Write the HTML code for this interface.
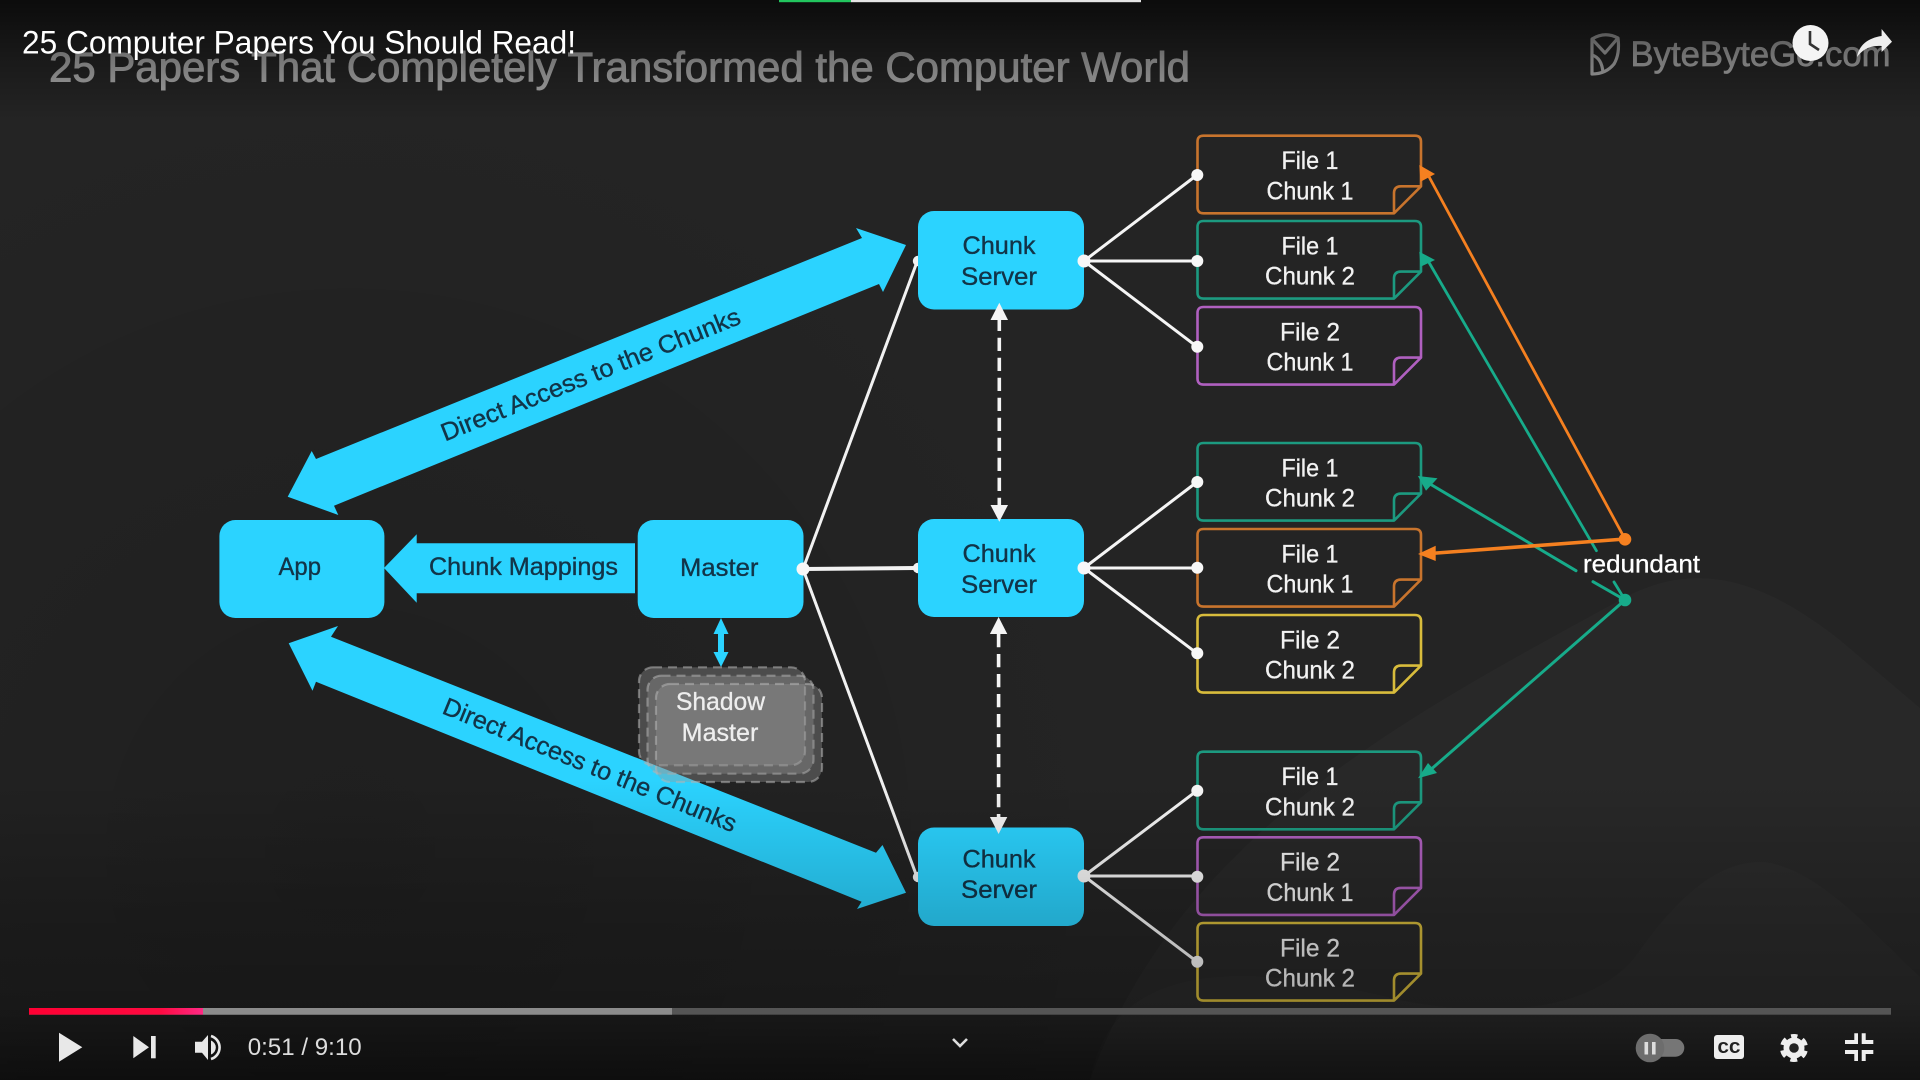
<!DOCTYPE html>
<html lang="en"><head><meta charset="utf-8"><title>25 Computer Papers You Should Read!</title>
<style>html,body{margin:0;padding:0;background:#232323;width:1920px;height:1080px;overflow:hidden}svg{display:block}text{font-family:"Liberation Sans",sans-serif}</style></head>
<body>
<svg xmlns="http://www.w3.org/2000/svg" width="1920" height="1080" viewBox="0 0 1920 1080">
<defs>
<linearGradient id="topg" x1="0" y1="0" x2="0" y2="1"><stop offset="0" stop-color="#000" stop-opacity=".68"/><stop offset=".5" stop-color="#000" stop-opacity=".3"/><stop offset="1" stop-color="#000" stop-opacity="0"/></linearGradient>
<linearGradient id="botg" gradientUnits="userSpaceOnUse" x1="0" y1="780" x2="0" y2="1080"><stop offset="0" stop-color="#000" stop-opacity="0"/><stop offset=".45" stop-color="#000" stop-opacity=".19"/><stop offset=".75" stop-color="#000" stop-opacity=".27"/><stop offset="1" stop-color="#000" stop-opacity=".58"/></linearGradient>
<radialGradient id="leftd" gradientUnits="userSpaceOnUse" cx="350" cy="850" r="800"><stop offset="0" stop-color="#000" stop-opacity=".14"/><stop offset="1" stop-color="#000" stop-opacity="0"/></radialGradient>
<linearGradient id="red" x1="0" y1="0" x2="1" y2="0"><stop offset="0" stop-color="#ff0033"/><stop offset=".75" stop-color="#ff0a40"/><stop offset="1" stop-color="#ff2a85"/></linearGradient>
<path id="f" fill="none" stroke="currentColor" stroke-width="2.6" stroke-linejoin="round" d="M6 0H217.5Q223.5 0 223.5 6V50.6L196.5 77.6H6Q0 77.6 0 71.6V6Q0 0 6 0ZM196.5 77.6V57.6Q196.5 50.6 203.5 50.6H223.5"/>
</defs>
<rect width="1920" height="1080" fill="#242424"/>
<rect width="1920" height="1080" fill="url(#leftd)"/>
<path d="M1090 1080C1180 830 1420 710 1620 600C1700 555 1770 585 1840 640L1920 708V1080Z" fill="#fff" opacity=".02"/>
<path d="M1090 1080C1110 980 1200 950 1400 1000C1500 1020 1600 1010 1640 950C1690 880 1730 860 1765 862C1820 870 1870 930 1920 977V1080Z" fill="#fff" opacity=".015"/>

<text x="49" y="81.7" font-size="42" fill="#a9a9a9" stroke="#a9a9a9" stroke-width=".9" textLength="1141" lengthAdjust="spacingAndGlyphs">25 Papers That Completely Transformed the Computer World</text>
<g fill="none" stroke="#aaa" stroke-width="3.2" stroke-linejoin="round"><path d="M1592 39Q1605 31 1618 38Q1620 54 1614 64Q1606 74 1592 74Z"/><path d="M1592 39L1605 53L1618 38M1592 55Q1602 58 1603 73"/></g>
<text x="1630.5" y="66" font-size="35" fill="#a9a9a9" stroke="#a9a9a9" stroke-width=".7" textLength="260" lengthAdjust="spacingAndGlyphs">ByteByteGo.com</text>

<!-- big arrows -->
<polygon points="287.7,496.7 311.7,451 316,459 862,238 856,228 906,245 883,292 879,284 334,505.7 338.3,515" fill="#2bd3ff"/>
<polygon points="288.7,643.3 338,626 331,636.7 876,852.7 882.5,845 906,892.7 857,909 861.6,901.7 316,681.7 312.5,690.7" fill="#2bd3ff"/>
<polygon points="384,568 416.7,534.3 416.7,543.3 635,543.3 635,593.3 416.7,593.3 416.7,602.7" fill="#2bd3ff"/>
<polygon points="721,618 728.5,634 724,634 724,652 728.5,652 721,667 713.5,652 718,652 718,634 713.5,634" fill="#2bd3ff"/>

<!-- master-to-server lines -->
<g stroke="#f2f2f2" stroke-width="3" fill="none" stroke-linecap="round"><line x1="803" y1="569" x2="917" y2="262"/><line x1="803" y1="569" x2="917" y2="568" stroke-width="4"/><line x1="803" y1="569" x2="917" y2="877"/></g>
<g fill="#f2f2f2"><circle cx="918" cy="261" r="5.2"/><circle cx="918" cy="568" r="5.2"/><circle cx="918" cy="877" r="5.2"/></g>

<!-- blue boxes -->
<g fill="#2bd3ff"><rect x="219.4" y="520" width="165" height="98" rx="16"/><rect x="637.7" y="520" width="165.8" height="98" rx="16"/><rect x="918" y="211" width="166" height="98.5" rx="16"/><rect x="918" y="519" width="166" height="98" rx="16"/><rect x="918" y="827.5" width="166" height="98.5" rx="16"/></g>

<!-- shadow master -->
<g fill="#999" fill-opacity=".36" stroke="#b5b5b5" stroke-opacity=".55" stroke-width="2.2" stroke-dasharray="9 6">
<rect x="639" y="667.3" width="166" height="98" rx="14"/><rect x="647.5" y="675.7" width="166" height="98" rx="14"/><rect x="656" y="684" width="166" height="98" rx="14"/></g>

<!-- dark text -->
<g fill="#123448" font-size="25" stroke="#123448" stroke-width=".35">
<text x="278.5" y="575" textLength="42.5" lengthAdjust="spacingAndGlyphs">App</text>
<text x="429" y="575" textLength="189" lengthAdjust="spacingAndGlyphs">Chunk Mappings</text>
<text x="680" y="576" textLength="78.4" lengthAdjust="spacingAndGlyphs">Master</text>
<text x="962.5" y="254" textLength="73" lengthAdjust="spacingAndGlyphs">Chunk</text><text x="961" y="285" textLength="76" lengthAdjust="spacingAndGlyphs">Server</text>
<text x="962.5" y="562" textLength="73" lengthAdjust="spacingAndGlyphs">Chunk</text><text x="961" y="593" textLength="76" lengthAdjust="spacingAndGlyphs">Server</text>
<text x="962.5" y="867.5" textLength="73" lengthAdjust="spacingAndGlyphs">Chunk</text><text x="961" y="898" textLength="76" lengthAdjust="spacingAndGlyphs">Server</text>
<text transform="translate(445 441.5) rotate(-21.7)" textLength="320" lengthAdjust="spacingAndGlyphs">Direct Access to the Chunks</text>
<text transform="translate(441 713) rotate(22.3)" textLength="315" lengthAdjust="spacingAndGlyphs">Direct Access to the Chunks</text>
</g>
<g fill="#eee" font-size="25" stroke="#eee" stroke-width=".3"><text x="676" y="710" textLength="89" lengthAdjust="spacingAndGlyphs">Shadow</text><text x="681.7" y="741" textLength="76.6" lengthAdjust="spacingAndGlyphs">Master</text></g>

<!-- dashed arrows -->
<g stroke="#f4f4f4" stroke-width="3.6" fill="none"><line x1="999.3" y1="317.7" x2="999.3" y2="506" stroke-dasharray="13.3 6.7"/><line x1="998.6" y1="634" x2="998.6" y2="818" stroke-dasharray="13.3 6.7"/></g>
<g fill="#f4f4f4"><polygon points="999.3,302.7 1008,320 990.5,320"/><polygon points="999.3,521.7 1008,505 990.5,505"/><polygon points="998.6,617 1007.3,634 989.9,634"/><polygon points="998.6,834 1007.3,817 989.9,817"/></g>

<!-- files -->
<use href="#f" x="1197.5" y="135.7" color="#c8742d"/>
<use href="#f" x="1197.5" y="221" color="#1c9a80"/>
<use href="#f" x="1197.5" y="307" color="#b060c0"/>
<use href="#f" x="1197.5" y="443" color="#1c9a80"/>
<use href="#f" x="1197.5" y="529" color="#c8742d"/>
<use href="#f" x="1197.5" y="615" color="#d8bc3c"/>
<use href="#f" x="1197.5" y="751.7" color="#1c9a80"/>
<use href="#f" x="1197.5" y="837.3" color="#b060c0"/>
<use href="#f" x="1197.5" y="923" color="#d8bc3c"/>
<g fill="#f2f2f2" stroke="#f2f2f2" stroke-width=".3" font-size="25" text-anchor="middle">
<text x="1310" y="169" textLength="57" lengthAdjust="spacingAndGlyphs">File 1</text><text x="1310" y="199.3" textLength="87" lengthAdjust="spacingAndGlyphs">Chunk 1</text>
<text x="1310" y="254.3" textLength="57" lengthAdjust="spacingAndGlyphs">File 1</text><text x="1310" y="284.6" textLength="90" lengthAdjust="spacingAndGlyphs">Chunk 2</text>
<text x="1310" y="340.3" textLength="60" lengthAdjust="spacingAndGlyphs">File 2</text><text x="1310" y="370.6" textLength="87" lengthAdjust="spacingAndGlyphs">Chunk 1</text>
<text x="1310" y="476.3" textLength="57" lengthAdjust="spacingAndGlyphs">File 1</text><text x="1310" y="506.6" textLength="90" lengthAdjust="spacingAndGlyphs">Chunk 2</text>
<text x="1310" y="562.3" textLength="57" lengthAdjust="spacingAndGlyphs">File 1</text><text x="1310" y="592.6" textLength="87" lengthAdjust="spacingAndGlyphs">Chunk 1</text>
<text x="1310" y="648.3" textLength="60" lengthAdjust="spacingAndGlyphs">File 2</text><text x="1310" y="678.6" textLength="90" lengthAdjust="spacingAndGlyphs">Chunk 2</text>
<text x="1310" y="785" textLength="57" lengthAdjust="spacingAndGlyphs">File 1</text><text x="1310" y="815.3" textLength="90" lengthAdjust="spacingAndGlyphs">Chunk 2</text>
<text x="1310" y="870.6" textLength="60" lengthAdjust="spacingAndGlyphs">File 2</text><text x="1310" y="900.9" textLength="87" lengthAdjust="spacingAndGlyphs">Chunk 1</text>
<text x="1310" y="956.3" textLength="60" lengthAdjust="spacingAndGlyphs">File 2</text><text x="1310" y="986.6" textLength="90" lengthAdjust="spacingAndGlyphs">Chunk 2</text>
</g>

<!-- server to file connectors -->
<g stroke="#f5f5f5" stroke-width="3" fill="none" stroke-linecap="round">
<path d="M1084 261L1197 175M1084 261H1197M1084 261L1197 346.7"/>
<path d="M1084 568L1197 482M1084 568H1197M1084 568L1197 653.3"/>
<path d="M1084 876L1197 790.7M1084 876H1197M1084 876L1197 961.7"/>
</g>
<g fill="#f7f7f7">
<circle cx="1084" cy="261" r="6.5"/><circle cx="1084" cy="568" r="6.5"/><circle cx="1084" cy="876" r="6.5"/>
<circle cx="803" cy="569" r="6.5"/>
<circle cx="1197.3" cy="175" r="6"/><circle cx="1197.3" cy="261" r="6"/><circle cx="1197.3" cy="346.7" r="6"/>
<circle cx="1197.3" cy="482" r="6"/><circle cx="1197.3" cy="567.7" r="6"/><circle cx="1197.3" cy="653.3" r="6"/>
<circle cx="1197.3" cy="790.7" r="6"/><circle cx="1197.3" cy="876.7" r="6"/><circle cx="1197.3" cy="961.7" r="6"/>
</g>

<!-- redundant links -->
<g fill="none" stroke-linecap="round">
<line x1="1427" y1="259" x2="1596.4" y2="550.7" stroke="#17ab8a" stroke-width="2.8"/>
<line x1="1614" y1="582" x2="1625" y2="600" stroke="#17ab8a" stroke-width="2.8"/>
<line x1="1425" y1="481" x2="1576" y2="570.7" stroke="#17ab8a" stroke-width="3"/>
<line x1="1593" y1="581.7" x2="1625" y2="600" stroke="#17ab8a" stroke-width="3"/>
<line x1="1625" y1="600" x2="1428" y2="772" stroke="#17ab8a" stroke-width="3"/>
<line x1="1625" y1="539" x2="1427" y2="173" stroke="#f58020" stroke-width="2.8"/>
<line x1="1625" y1="539" x2="1430" y2="553.5" stroke="#f58020" stroke-width="3.6"/>
</g>
<polygon points="1419.3,165 1435,174 1420.5,181.7" fill="#f58020"/>
<polygon points="1418,554 1435.7,545.7 1435.7,561" fill="#f58020"/>
<polygon points="1419.3,251.7 1435,260 1420.5,266.7" fill="#17ab8a"/>
<polygon points="1417.9,476 1437.5,478.3 1426,490.7" fill="#17ab8a"/>
<polygon points="1418,778.3 1428,763 1437,773" fill="#17ab8a"/>
<circle cx="1625" cy="539.3" r="6.3" fill="#f58020"/>
<circle cx="1625" cy="600" r="6.3" fill="#17ab8a"/>
<text x="1583" y="572.3" font-size="25" fill="#fff" stroke="#fff" stroke-width=".3" textLength="117" lengthAdjust="spacingAndGlyphs">redundant</text>

<!-- overlays -->
<rect width="1920" height="120" fill="url(#topg)"/>
<rect y="780" width="1920" height="300" fill="url(#botg)"/>

<!-- top bar -->
<rect x="779" y="0" width="72" height="2.2" fill="#22c55e"/><rect x="851" y="0" width="290" height="2.2" fill="#e4e4e4"/>
<text x="22" y="53.3" font-size="32" fill="#fff" textLength="554" lengthAdjust="spacingAndGlyphs">25 Computer Papers You Should Read!</text>
<circle cx="1810.5" cy="43" r="18" fill="#f4f4f4"/><polyline points="1810,31 1810,44 1819,50" fill="none" stroke="#333" stroke-width="2.6"/>
<path d="M1881.6 29L1892 41.7L1881.6 52V46C1870 45 1862 50 1857 57C1859 45 1868 38 1881.6 36Z" fill="#eee"/>

<!-- progress -->
<rect x="29" y="1008" width="1862" height="6.7" fill="#555"/>
<rect x="203" y="1008" width="469" height="6.7" fill="#8c8c8c"/>
<rect x="29" y="1008" width="174" height="6.7" fill="url(#red)"/>

<!-- controls -->
<polygon points="59,1032.7 82.3,1047.3 59,1061.7" fill="#e8e8e8"/>
<polygon points="133.3,1036 149,1047.3 133.3,1058.3" fill="#e8e8e8"/><rect x="151" y="1036" width="4.7" height="22.3" fill="#e8e8e8"/>
<polygon points="195,1041.7 202,1041.7 208,1035 208,1060 202,1052.7 195,1052.7" fill="#e8e8e8"/>
<path d="M211 1040.5A7.5 7.5 0 0 1 211 1054.5Z" fill="#e8e8e8"/><path d="M211 1036A12 12 0 0 1 211 1059" fill="none" stroke="#e8e8e8" stroke-width="2.6"/>
<text x="247.7" y="1055" font-size="24.5" fill="#ddd" textLength="114" lengthAdjust="spacingAndGlyphs">0:51 / 9:10</text>
<polyline points="953,1039 960,1046 967,1039" fill="none" stroke="#ddd" stroke-width="2.6"/>
<rect x="1636" y="1039" width="48.3" height="17.7" rx="8.8" fill="#767676"/>
<circle cx="1650" cy="1048" r="14.3" fill="#6d6d6d"/><rect x="1644.5" y="1042" width="3.6" height="12.5" fill="#ddd"/><rect x="1652" y="1042" width="3.6" height="12.5" fill="#ddd"/>
<rect x="1714" y="1035" width="30" height="24" rx="3" fill="#eee"/>
<text x="1717.5" y="1053" font-size="17" font-weight="700" fill="#222" textLength="23" lengthAdjust="spacingAndGlyphs" style="font-family:'Liberation Mono',monospace">CC</text>
<circle cx="1794" cy="1048" r="10.5" fill="#eee"/><circle cx="1794" cy="1048" r="11.5" fill="none" stroke="#eee" stroke-width="5" stroke-dasharray="6.6 5.44" stroke-dashoffset="3.3" transform="rotate(-90 1794 1048)"/><circle cx="1794" cy="1048" r="4.8" fill="#222"/>
<path d="M1854.3 1033.3H1858V1044H1845V1040H1854.3ZM1861.7 1033.3H1865.7V1040H1873.3V1044H1861.7ZM1845 1050H1858V1061H1854.3V1054H1845ZM1861.7 1050H1873.3V1054H1865.7V1061H1861.7Z" fill="#eee"/>
</svg>
</body></html>
